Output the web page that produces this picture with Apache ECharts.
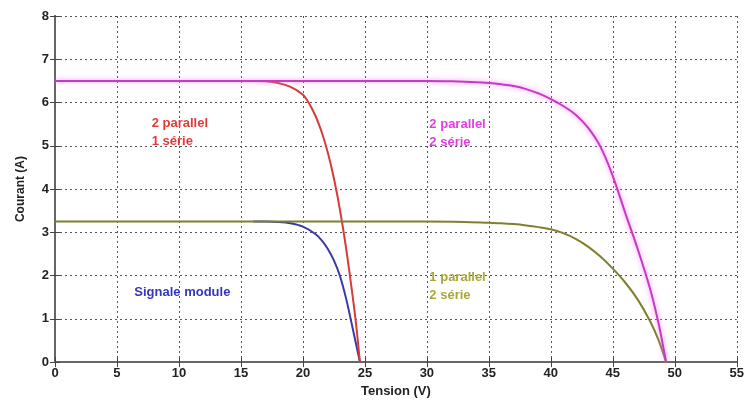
<!DOCTYPE html>
<html>
<head>
<meta charset="utf-8">
<script src="https://cdn.jsdelivr.net/npm/echarts@6/dist/echarts.min.js"></script>
<style>html,body{margin:0;padding:0;background:#fff}#c{width:747px;height:403px}</style>
</head>
<body>
<div id="c"></div>
<script>
// Data: [Tension (V), Courant (A)]
var xTicks = [0, 5, 10, 15, 20, 25, 30, 35, 40, 45, 50, 55];
var yTicks = [0, 1, 2, 3, 4, 5, 6, 7, 8];

var magenta2p2s = [[0,6.5],[10,6.5],[20,6.5],[28,6.5],[30,6.5],[32,6.49],[34,6.47],[35,6.45],[36,6.42],[37,6.38],[38,6.31],[39,6.21],[40,6.08],[41,5.92],[42,5.72],[43,5.42],[44,4.98],[45,4.3],[46,3.45],[47,2.62],[48,1.7],[48.7,0.88],[49.3,0]];
var olive1p2s = [[0,3.25],[10,3.25],[20,3.25],[30,3.25],[33,3.24],[35,3.22],[36,3.21],[37,3.19],[38,3.16],[39,3.12],[40,3.07],[41,2.98],[42,2.85],[43,2.67],[44,2.44],[45,2.16],[46,1.84],[47,1.45],[48,0.95],[48.7,0.5],[49.3,0]];
var red2p1s = [[8,6.5],[12,6.5],[15,6.5],[16,6.5],[17,6.49],[18,6.45],[19,6.36],[20,6.18],[20.5,5.98],[21,5.7],[21.5,5.33],[22,4.85],[22.5,4.25],[23,3.5],[23.5,2.6],[24,1.55],[24.3,0.85],[24.6,0]];
var blueSingle = [[16,3.25],[17,3.25],[18,3.24],[19,3.21],[20,3.13],[21,2.96],[21.5,2.82],[22,2.62],[22.5,2.35],[23,1.98],[23.5,1.45],[24,0.8],[24.6,0]];

var labelRed = '2 parallel\n1 série';
var labelMagenta = '2 parallel\n2 série';
var labelOlive = '1 parallel\n2 série';
var labelBlue = 'Signale module';

var chart = echarts.init(document.getElementById('c'));
var font = 'Liberation Sans';
function ann(coord, text, color) {
  return {
    symbol: 'circle', symbolSize: 0,
    data: [{ coord: coord }],
    label: {
      show: true, position: 'right', distance: 0,
      formatter: text, color: color, fontFamily: font, fontWeight: 'bold',
      fontSize: 13, lineHeight: 18, align: 'left'
    },
    silent: true
  };
}
function lineSeries(data, color, extra) {
  var s = {
    type: 'line', data: data, showSymbol: false, symbol: 'none',
    smooth: 0.3,
    lineStyle: { color: color, width: 2 },
    z: 3
  };
  for (var k in extra) s[k] = extra[k];
  return s;
}
var axisLabelStyle = { color: '#222', fontFamily: font, fontWeight: 'bold', fontSize: 13 };
var option = {
  animation: false,
  backgroundColor: '#fff',
  grid: { left: 55, right: 5, top: 16, bottom: 36, show: false },
  xAxis: [{
    type: 'value', min: 0, max: 55, interval: 5, position: 'bottom',
    name: 'Tension (V)', nameLocation: 'middle', nameGap: 20,
    nameTextStyle: { color: '#222', fontFamily: font, fontWeight: 'bold', fontSize: 13 },
    axisLine: { show: true, lineStyle: { color: '#666', width: 2 } },
    axisTick: { show: true, inside: true, length: 5, lineStyle: { color: '#444' } },
    axisLabel: Object.assign({ margin: 5 }, axisLabelStyle),
    splitLine: { show: true, lineStyle: { color: '#555', type: [2, 3], width: 1 } }
  }, {
    type: 'value', min: 0, max: 55, interval: 5, position: 'top',
    axisLine: { show: true, lineStyle: { color: '#666', width: 2 } },
    axisTick: { show: true, inside: true, length: 5, lineStyle: { color: '#444' } },
    axisLabel: { show: false }, splitLine: { show: false }
  }],
  yAxis: [{
    type: 'value', min: 0, max: 8, interval: 1, position: 'left',
    name: 'Courant (A)', nameLocation: 'middle', nameGap: 28, nameRotate: 90,
    nameTextStyle: { color: '#222', fontFamily: font, fontWeight: 'bold', fontSize: 12 },
    axisLine: { show: true, lineStyle: { color: '#666', width: 2 } },
    axisTick: { show: true, inside: true, length: 5, lineStyle: { color: '#444' } },
    axisLabel: Object.assign({ margin: 6 }, axisLabelStyle),
    splitLine: { show: true, lineStyle: { color: '#555', type: [2, 3], width: 1 } }
  }, {
    type: 'value', min: 0, max: 8, interval: 1, position: 'right',
    axisLine: { show: true, lineStyle: { color: '#666', width: 2 } },
    axisTick: { show: true, inside: true, length: 5, lineStyle: { color: '#444' } },
    axisLabel: { show: false }, splitLine: { show: false }
  }],
  series: [
    lineSeries(blueSingle, '#3a3aa6', { markPoint: ann([6.4, 1.61], labelBlue, '#3535c0') }),
    lineSeries(red2p1s, '#d83a3a', { markPoint: ann([7.8, 5.31], labelRed, '#e23a3a') }),
    lineSeries(olive1p2s, '#7f7f2e', { markPoint: ann([30.2, 1.75], labelOlive, '#a8a838') }),
    lineSeries(magenta2p2s, '#c23cc2', {
      lineStyle: { color: '#c23cc2', width: 2, shadowColor: 'rgba(255,110,255,0.9)', shadowBlur: 5 },
      markPoint: ann([30.2, 5.29], labelMagenta, '#e040e0')
    })
  ]
};
chart.setOption(option);
</script>
</body>
</html>
